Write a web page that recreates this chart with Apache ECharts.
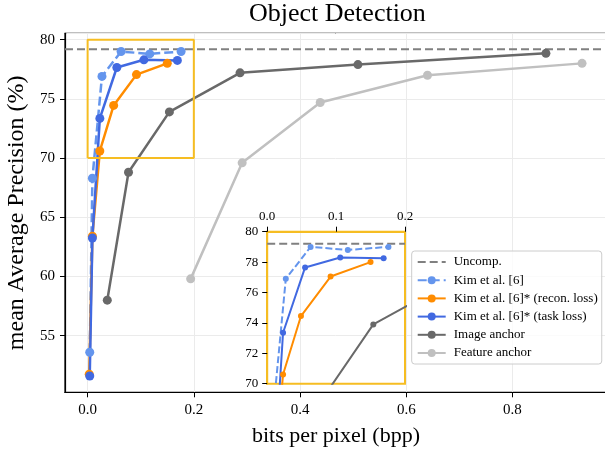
<!DOCTYPE html>
<html lang="en">
<head>
<meta charset="UTF-8">
<title>Object Detection</title>
<style>
    html, body { margin: 0; padding: 0; background: #fff; }
    #chart { width: 605px; height: 449px; }
</style>
</head>
<body>
<div id="chart"></div>
<script src="https://cdn.jsdelivr.net/npm/echarts@6/dist/echarts.min.js"></script>
<script>
// values (bpp, mAP %)
const kimX   = [0.004, 0.009, 0.027, 0.063, 0.117, 0.176];
const kimY   = [53.6, 68.3, 76.9, 79.0, 78.8, 79.0];
const reconX = [0.003, 0.009, 0.023, 0.049, 0.092, 0.150];
const reconY = [51.75, 63.4, 70.6, 74.45, 77.05, 78.0];
const taskX  = [0.004, 0.009, 0.023, 0.055, 0.106, 0.169];
const taskY  = [51.6, 63.25, 73.35, 77.65, 78.3, 78.25];
const imgX   = [0.037, 0.077, 0.154, 0.287, 0.509, 0.863];
const imgY   = [58.0, 68.8, 73.9, 77.2, 77.9, 78.85];
const featX  = [0.194, 0.291, 0.438, 0.640, 0.931];
const featY  = [59.8, 69.6, 74.7, 77.0, 78.0];
const uncomp = 79.2;

// axis limits
const mainX = [-0.0426, 0.978];
const mainY = [50.22, 80.54];
const zoomX = [0, 0.2];
const zoomY = [70, 80];

const names = ['Uncomp.', 'Kim et al. [6]', 'Kim et al. [6]* (recon. loss)',
               'Kim et al. [6]* (task loss)', 'Image anchor', 'Feature anchor'];

const FONT = "'Liberation Serif', 'Times New Roman', serif";
const GOLD = '#f6bd22';

const pairs = (xs, ys) => xs.map((x, i) => [x, ys[i]]);

function line(name, xs, ys, color, dashed, inset) {
    return {
        name: name,
        type: 'line',
        xAxisIndex: inset ? 1 : 0,
        yAxisIndex: inset ? 1 : 0,
        data: pairs(xs, ys),
        symbol: 'circle',
        symbolSize: inset ? 6 : 9,
        clip: true,
        lineStyle: { color: color, width: inset ? 2 : 2.5, type: dashed ? (inset ? [7, 3] : [9, 4]) : 'solid' },
        itemStyle: { color: color },
        z: inset ? 6 : 3
    };
}

function uncompLine(inset) {
    const xr = inset ? zoomX : mainX;
    return {
        name: names[0],
        type: 'line',
        xAxisIndex: inset ? 1 : 0,
        yAxisIndex: inset ? 1 : 0,
        data: [[xr[0], uncomp], [xr[1], uncomp]],
        symbol: 'none',
        lineStyle: { color: '#808080', width: 2, type: [8, 4] },
        itemStyle: { color: '#808080' },
        z: inset ? 5 : 2
    };
}

const series = [];
[false, true].forEach(inset => {
    series.push(uncompLine(inset));
    series.push(line(names[1], kimX, kimY, '#6495ed', true, inset));
    series.push(line(names[2], reconX, reconY, '#ff8c00', false, inset));
    series.push(line(names[3], taskX, taskY, '#4169e1', false, inset));
    series.push(line(names[4], imgX, imgY, '#696969', false, inset));
    if (!inset) series.push(line(names[5], featX, featY, '#c0c0c0', false, inset));
});

// box on the main plot showing the zoomed region
series.push({
    type: 'line',
    xAxisIndex: 0,
    yAxisIndex: 0,
    data: [[zoomX[0], zoomY[0]], [zoomX[1], zoomY[0]], [zoomX[1], zoomY[1]],
           [zoomX[0], zoomY[1]], [zoomX[0], zoomY[0]]],
    symbol: 'none',
    silent: true,
    lineStyle: { color: GOLD, width: 2 },
    z: 4
});

const labelStyle = (size, margin) => ({
    fontFamily: FONT, fontSize: size, color: '#000', margin: margin
});

// no marker on the "Uncomp." legend entry
const legendData = names.map((n, i) => i === 0 ? { name: n, itemStyle: { opacity: 0 } } : n);

const chart = echarts.init(document.getElementById('chart'), null, { renderer: 'canvas' });
chart.setOption({
    animation: false,
    backgroundColor: '#fff',
    title: {
        text: 'Object Detection',
        left: 249,
        top: 1,
        padding: 0,
        textStyle: { fontFamily: FONT, fontSize: 26, fontWeight: 'normal', color: '#000' }
    },
    legend: {
        data: legendData,
        orient: 'vertical',
        left: 411.7,
        top: 251,
        padding: [4, 4, 4, 5],
        itemWidth: 28,
        itemHeight: 10,
        itemGap: 4.2,
        borderColor: '#cccccc',
        borderWidth: 1,
        borderRadius: 3,
        backgroundColor: 'rgba(255,255,255,0.8)',
        textStyle: { fontFamily: FONT, fontSize: 13, color: '#000', lineHeight: 14, padding: [0, 0, 0, 3] }
    },
    grid: [
        { left: 65, top: 33.3, width: 542, height: 359, show: true, outerBoundsMode: 'none',
          borderColor: '#000', borderWidth: 1.2, backgroundColor: 'transparent' },
        { left: 267.2, top: 231.7, width: 137.8, height: 152, show: true, outerBoundsMode: 'none',
          borderColor: GOLD, borderWidth: 2, backgroundColor: 'transparent', z: 5 }
    ],
    xAxis: [
        {
            type: 'value', gridIndex: 0, min: mainX[0], max: mainX[1], splitNumber: 5,
            axisLine: { show: true, onZero: false, lineStyle: { color: '#000', width: 1.2 } },
            axisTick: { show: true, length: 5, lineStyle: { color: '#000', width: 1 } },
            axisLabel: Object.assign(labelStyle(15, 10), {
                showMinLabel: false, showMaxLabel: false,
                formatter: v => v.toFixed(1)
            }),
            splitLine: { show: true, lineStyle: { color: '#ebebeb', width: 1 } },
            name: 'bits per pixel (bpp)', nameLocation: 'middle', nameGap: 33,
            nameTextStyle: { fontFamily: FONT, fontSize: 22, color: '#000' }
        },
        {
            type: 'value', gridIndex: 1, position: 'top', min: zoomX[0], max: zoomX[1], interval: 0.1,
            axisLine: { show: true, onZero: false, lineStyle: { color: GOLD, width: 2 } },
            axisTick: { show: true, length: 5, lineStyle: { color: '#000', width: 1 } },
            axisLabel: Object.assign(labelStyle(13, 9), { formatter: v => v.toFixed(1) }),
            splitLine: { show: false },
            z: 5
        }
    ],
    yAxis: [
        {
            type: 'value', gridIndex: 0, min: mainY[0], max: mainY[1], splitNumber: 6,
            axisLine: { show: true, onZero: false, lineStyle: { color: '#000', width: 1.2 } },
            axisTick: { show: true, length: 5, lineStyle: { color: '#000', width: 1 } },
            axisLabel: Object.assign(labelStyle(15, 10), {
                showMinLabel: false, showMaxLabel: false,
                formatter: v => String(Math.round(v))
            }),
            splitLine: { show: true, lineStyle: { color: '#ebebeb', width: 1 } },
            name: 'mean Average Precision (%)', nameLocation: 'middle', nameGap: 26,
            nameTextStyle: { fontFamily: FONT, fontSize: 24, color: '#000' }
        },
        {
            type: 'value', gridIndex: 1, min: zoomY[0], max: zoomY[1], interval: 2,
            axisLine: { show: true, onZero: false, lineStyle: { color: GOLD, width: 2 } },
            axisTick: { show: true, length: 5, lineStyle: { color: '#000', width: 1 } },
            axisLabel: labelStyle(13, 9),
            splitLine: { show: false },
            z: 5
        }
    ],
    series: series
});
</script>
</body>
</html>
